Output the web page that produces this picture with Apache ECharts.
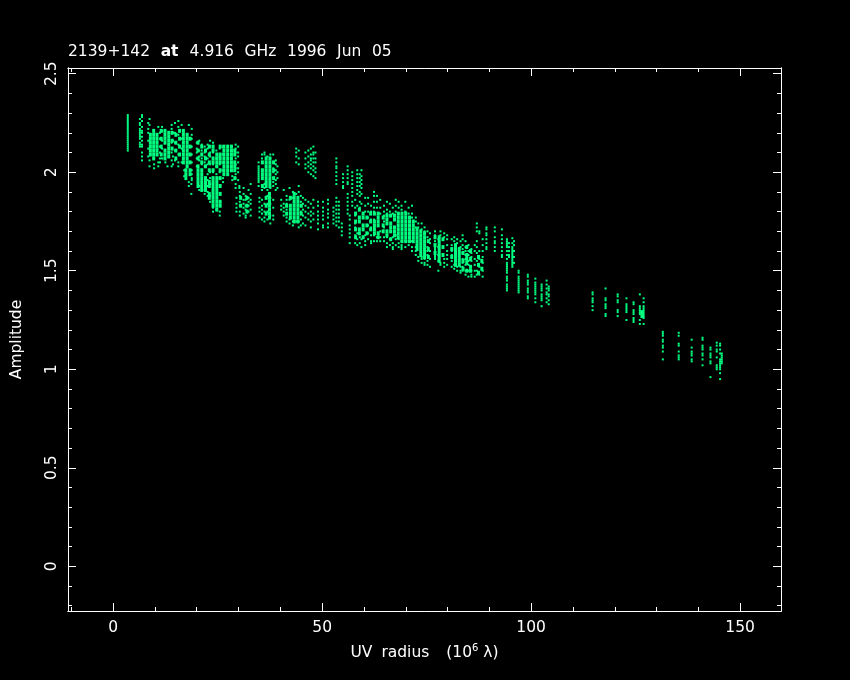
<!DOCTYPE html>
<html><head><meta charset="utf-8">
<style>html,body{margin:0;padding:0;background:#000}#c{width:850px;height:680px}</style>
<script src="https://cdn.jsdelivr.net/npm/echarts@6/dist/echarts.min.js"></script>
</head><body><div id="c"></div>
<script>
const titleWords = ['2139+142', 'at', '4.916', 'GHz', '1996', 'Jun', '05'];
const xNameWords = ['UV', 'radius', '(10', '6', 'λ)'];
const yName = 'Amplitude';
const xMajorTicks = [0, 50, 100, 150];
const xMinorTicks = [-10, 10, 20, 30, 40, 60, 70, 80, 90, 110, 120, 130, 140];
const yMajorTicks = [0, 0.5, 1, 1.5, 2, 2.5];
const yMinorTicks = [-0.2, -0.1, 0.1, 0.2, 0.3, 0.4, 0.6, 0.7, 0.8, 0.9, 1.1, 1.2, 1.3, 1.4, 1.6, 1.7, 1.8, 1.9, 2.1, 2.2, 2.3, 2.4];

// each row: UV radius, then the amplitudes read in that column
const denseColumns = [
[8.9,2.19,2.17,2.15,2.13,2.11,2.09],[9.7,2.21,2.19,2.17,2.15,2.13,2.11,2.09,2.07],[10.5,2.19,2.17,2.15,2.13,2.11,2.09],
[11.5,2.21,2.17,2.13,2.09],[12.4,2.21,2.19,2.17,2.15,2.11,2.09,2.07],[13.3,2.2,2.18,2.16,2.14,2.12,2.1,2.08],[14.1,2.2,2.16,2.12],
[15,2.19,2.15,2.11,2.07],[15.9,2.21,2.17,2.13,2.09],[16.8,2.21,2.19,2.17,2.15,2.13,2.11,2.09,2.07,2.05],[17.7,2.19,2.17,2.15,2.13,2.11,2.09,2.07,2.05,2.03],[18.4,2.17,2.13,2.09,2.05,2.01,1.99],
[17.4,2.01,1.99,1.97],
[20.3,2.15,2.11,2.07,2.03,2.01,1.99,1.97,1.95,1.93],[21.2,2.13,2.09,2.05,2.01,1.99,1.97,1.95,1.93,1.91],[22.1,2.11,2.07,2.03,1.97,1.95,1.93,1.91],[23,2.13,2.09,2.05,2.01,1.95,1.93,1.89,1.87],
[23.9,2.13,2.11,2.07,2.05,2.01,1.97,1.95,1.93,1.91,1.89,1.87,1.85,1.83],[24.8,2.09,2.07,2.05,2.03,1.97,1.95,1.93,1.91,1.89,1.87,1.85,1.83,1.81],[25.6,2.13,2.09,2.07,2.05,2.01,1.97,1.93,1.89,1.85,1.83],
[26.5,2.13,2.11,2.09,2.07,2.05,2.03,2.01,1.99],[27.4,2.13,2.11,2.09,2.07,2.05,2.03,2.01,1.99],[28.3,2.13,2.11,2.09,2.07,2.05,2.03,2.01],[29.1,2.11,2.09,2.05,2.03,2.01,1.97],
[30.5,1.87,1.83],[32,1.87,1.83,1.8],
[35.7,2.05,2.01,1.99,1.97,1.93],[36.6,2.07,2.05,2.03,2.01,1.99,1.97,1.95,1.93],[37.5,2.07,2.05,2.03,2.01,1.99,1.97,1.95,1.93],[38.4,2.05,2.01,1.97],
[36.6,1.87,1.83,1.79],[37.4,1.89,1.87,1.85,1.83,1.81,1.79,1.77],
[41.5,1.83,1.79],[42.4,1.87,1.83,1.81,1.79,1.77],[43.3,1.89,1.87,1.85,1.83,1.81,1.79,1.77,1.75],[44.2,1.87,1.85,1.83,1.81,1.79,1.77,1.75],[45,1.83,1.79],
[58,1.79,1.75,1.71,1.67],[58.9,1.81,1.77,1.75,1.71,1.69],[59.8,1.79,1.77,1.73,1.71,1.67],[60.7,1.77,1.73,1.69],
[61.6,1.79,1.75,1.71],[62.5,1.79,1.75,1.73,1.71,1.69],[63.4,1.79,1.77,1.75,1.73,1.69,1.67],
[64.6,1.77,1.73,1.7],[65.5,1.78,1.76,1.74,1.7,1.68],[66.4,1.78,1.74,1.72,1.7,1.66],[67.3,1.78,1.76,1.72,1.7,1.68],
[68.2,1.79,1.77,1.75,1.73,1.71,1.69,1.67],[69.1,1.79,1.77,1.75,1.73,1.71,1.69,1.67,1.65],[70,1.79,1.77,1.75,1.73,1.71,1.69,1.67,1.65],[70.9,1.77,1.75,1.73,1.71,1.69,1.67,1.65],[71.8,1.75,1.73,1.71,1.69,1.67,1.65],
[72.7,1.71,1.69,1.67,1.65,1.63,1.61],[73.6,1.7,1.68,1.66,1.64,1.62,1.6,1.58],[74.5,1.69,1.67,1.65,1.63,1.61,1.59,1.57],[75.4,1.65,1.61,1.57],
[77,1.67,1.63,1.59],[78,1.67,1.65,1.63,1.61,1.59,1.57,1.55],[78.9,1.66,1.62,1.58],
[81,1.61,1.57],[81.9,1.63,1.61,1.59,1.57,1.55,1.53],[82.8,1.61,1.59,1.57,1.55,1.53],[83.7,1.59,1.55,1.51],
[84.6,1.62,1.58,1.56,1.54,1.5],[85.5,1.6,1.56,1.52,1.5],[87.4,1.57,1.53,1.49],[88.2,1.55,1.51],
[126.5,1.29,1.27]
];
const sparseColumns = [
[3.5,2.29,2.28,2.27,2.26,2.25,2.24,2.23,2.22,2.21,2.2,2.19,2.18,2.17,2.16,2.15,2.14,2.13,2.12,2.11],
[6.4,2.27,2.25,2.24,2.22,2.21,2.2,2.19,2.18,2.17,2.15,2.14,2.13],[6.9,2.29,2.28,2.26,2.23,2.21,2.2,2.18,2.16,2.14,2.13,2.1,2.08,2.06],
[8.4,2.25,2.22,2.2,2.16,2.12,2.08],[8.7,2.27,2.24,2.06,2.03],[10.8,2.23,2.05,2.03],[9.8,2.04,2.02],
[11.2,2.2,2.17,2.13,2.1,2.07,2.05],[11.7,2.23,2.21,2.16,2.12,2.07],[14,2.24,2.22,2.15,2.1,2.06,2.03],[14.3,2.2,2.16,2.08,2.04],[13,2.03],[12.5,2.05],
[14.8,2.25,2.2,2.15,2.11,2.06],[15.6,2.26,2.23,2.19,2.14,2.09,2.05,2.03],[16.4,2.24,2.17,2.12,2.05],[18.8,2.22,2.19,2.17,2.13,2.09,2.05,2.01,1.99,1.97,1.96],[18.1,2.24,1.95,1.93],[17,2.01,1.98],[18.7,1.89,1.94],
[20,2.15,2.12,2.1,2.07,2.03],[20.6,2.16,2.11,2.08,2.06,1.93,1.91],[21.2,2.14,2.11,2.07,2.04,1.92],[21.9,2.13,2.1,2.08,2.05,2.03,1.91,1.89],[22.6,2.14,2.12,2.07,2.04,1.99,1.96,1.93,1.9,1.88],[23.2,2.16,2.13,2.1,2.08,2.04,2,1.97,1.94,1.88,1.85],[23.9,2.15,2.1,2.04,2,1.82,1.8],[24.7,2.11,2.07,2.03,1.99,1.81],[25.5,2.12,2.08,2.04,2.0,1.97,1.8,1.78],
[26.3,2.13,2.09,2.05,2.01,1.97,1.95],[28.5,1.98,1.96],[29.3,2.14,2.12,2.1,2.07,2.04,2.02,1.99,1.97,1.94,1.92],[29.9,2.13,2.1,2.08,2.05,2.02,2.0,1.96],[30.2,1.93,1.92],
[29.5,1.87,1.84,1.82,1.8],[30.3,1.9,1.88,1.85,1.83,1.8,1.78],[31.2,1.92,1.89,1.86,1.84,1.82,1.79],[31.7,1.88,1.86,1.83,1.81,1.78,1.77],[32.4,1.91,1.87,1.85,1.83,1.8],[32.9,1.94,1.89,1.86,1.84,1.81,1.78],
[34.8,2.05,2.03,2.02,2.01,2.0,1.99,1.98,1.97,1.96,1.95,1.93],[35,1.87,1.85,1.82,1.8,1.77],[35.6,2.09,2.07,1.91,1.86,1.83,1.81,1.79,1.76],[36.2,2.1,2.09,1.94,1.92,1.84,1.8,1.77,1.75],[36.9,2.08,1.91,1.88,1.84,1.8,1.76],[37.6,2.09,2.07,1.92,1.87,1.84,1.78,1.74],[38.3,2.09,2.05,2.02,2,1.97,1.95,1.93,1.86,1.82,1.78,1.76],[38.9,2.06,2.04,2.01,1.99,1.96,1.94,1.91],[39.3,2.03,2,1.97,1.92],
[40.2,1.86,1.83,1.81],[40.8,1.91,1.84,1.82,1.8,1.78],[41.5,1.88,1.86,1.84,1.81,1.77,1.75],[42.2,1.92,1.86,1.76,1.74],[43,1.9,1.87,1.75,1.73],[43.8,2.12,2.1,2.08,2.05,1.89,1.75],[44.4,2.11,2.07,2.04,1.93,1.9,1.75,1.72],[44.9,1.88,1.85,1.83,1.8,1.76,1.73],[45.4,1.87,1.84,1.81,1.78,1.74],
[46,2.1,2.07,2.04,2.02,1.86,1.83,1.8,1.77,1.73],[46.7,2.11,2.08,2.05,2.03,2.0,1.85,1.82,1.79,1.76],[47.3,2.12,2.09,2.07,2.06,2.04,2.02,1.99,1.84,1.8,1.78,1.75,1.72],[47.9,2.13,2.1,2.09,2.07,2.05,2.03,2.01,1.98,1.86,1.82,1.79,1.76],[48.4,2.1,2.07,2.05,2.02,2,1.97],
[49,1.85,1.83,1.8,1.78,1.76,1.74,1.71],[50.2,1.85,1.82,1.8,1.78,1.76,1.73,1.72],[51.4,1.86,1.84,1.81,1.79,1.77,1.74,1.72],
[52.7,1.82,1.8,1.78,1.76,1.74],[53.4,2.07,2.05,2.03,2.02,2,1.98,1.96,1.94,1.87,1.85,1.83,1.81,1.79,1.77,1.75,1.73],[54,1.85,1.83,1.81,1.79,1.77,1.75,1.72],[54.7,1.74,1.72,1.7,1.68],
[55,1.99,1.97,1.95,1.93,1.92],[56.1,2.03,2.01,1.99,1.97,1.95,1.94,1.89,1.87,1.85,1.83,1.81,1.79],[56.6,1.78,1.76,1.73,1.71,1.69,1.67,1.64],[57.2,2,1.98,1.96,1.94,1.92,1.9,1.88,1.85,1.83],
[57.9,1.86,1.82,1.78,1.74,1.72,1.68,1.64],[58.4,2.01,1.99,1.97,1.95,1.93,1.91,1.89,1.83,1.69,1.66,1.63],[59,1.99,1.97,1.95,1.93,1.9,1.88,1.85,1.82,1.67,1.64],[59.4,2.01,1.98,1.96,1.94,1.92,1.89,1.84,1.66,1.62],[60.3,1.87,1.83,1.8,1.68,1.65,1.63],
[61,1.87,1.84,1.8,1.77,1.73,1.69,1.66],[61.7,1.83,1.8,1.76,1.72,1.68,1.65,1.64],[62.4,1.9,1.88,1.85,1.82,1.8,1.76,1.72,1.68,1.65],[63.1,1.88,1.85,1.82,1.67,1.65],[63.9,1.86,1.82,1.79,1.7,1.67,1.65],
[64.8,1.83,1.8,1.78,1.75,1.72,1.67,1.65],[65.5,1.85,1.81,1.79,1.67,1.64,1.62],[66.2,1.84,1.8,1.78,1.66,1.63],[66.9,1.82,1.79,1.67,1.64,1.62,1.61],[67.6,1.86,1.83,1.8,1.68,1.66,1.63],
[68.3,1.85,1.82,1.79,1.66,1.64,1.62],[69,1.83,1.81,1.65,1.63,1.62,1.61],[69.9,1.85,1.8,1.65,1.62],[70.7,1.82,1.79,1.65,1.63],[71.5,1.83,1.79,1.77,1.65,1.62,1.6],
[72.4,1.77,1.75,1.72,1.62,1.6,1.58],[73,1.74,1.72,1.57,1.55],[73.8,1.74,1.71,1.57,1.56,1.54],[74.5,1.72,1.7,1.56,1.54,1.53],[75.2,1.7,1.67,1.62,1.6,1.58,1.55,1.53],[75.8,1.69,1.66,1.64,1.6,1.56,1.52],
[77,1.7,1.68,1.65,1.63,1.62,1.61,1.6,1.59,1.58,1.57,1.56],[77.8,1.66,1.62,1.58,1.55,1.5],[78.3,1.7,1.68,1.54,1.53],[79.2,1.69,1.67,1.56,1.54,1.52],[79.9,1.68,1.66,1.63,1.6,1.58,1.56,1.53],
[81,1.66,1.63,1.6,1.58,1.55,1.52],[81.6,1.67,1.65,1.53,1.51],[82.3,1.66,1.64,1.52,1.5],[83.1,1.65,1.62,1.52,1.5,1.49],[83.6,1.68,1.66,1.63,1.61,1.59,1.56,1.54,1.52,1.5],
[84.3,1.65,1.62,1.6,1.58,1.56,1.53,1.5,1.48],[85,1.63,1.6,1.58,1.55,1.53,1.5,1.47],[85.7,1.61,1.59,1.57,1.55,1.5,1.48,1.47],[86.5,1.63,1.6,1.56,1.53,1.5,1.47],
[87,1.74,1.72,1.7,1.65,1.62,1.59,1.55,1.5,1.48],[87.6,1.7,1.69,1.6,1.56,1.52,1.48],[88.4,1.66,1.63,1.6,1.57,1.54,1.5,1.47],
[89.3,1.72,1.71,1.69,1.68,1.66,1.64,1.62,1.61],[91.3,1.72,1.7,1.67,1.65,1.64,1.62,1.6],[93,1.71,1.68,1.66,1.64,1.62,1.6,1.58,1.57],
[94.2,1.66,1.65,1.64,1.63,1.62,1.6,1.58,1.56,1.54,1.53,1.52,1.51,1.5,1.49,1.47,1.46,1.45,1.43,1.42,1.41,1.4],[94.7,1.64,1.62,1.6,1.58,1.57],[95.5,1.665,1.64,1.62,1.61,1.6,1.59,1.58,1.57,1.56,1.55,1.54,1.53,1.52],[95.9,1.65,1.63,1.6,1.57,1.54],
[97,1.5,1.49,1.47,1.46,1.45,1.44,1.43,1.42,1.41,1.4,1.39],[99.2,1.48,1.47,1.45,1.44,1.43,1.41,1.4,1.39,1.37,1.36],[101,1.46,1.44,1.43,1.42,1.41,1.4,1.39,1.38,1.36,1.34],[102.5,1.43,1.42,1.41,1.4,1.38,1.37,1.36,1.35,1.32],[103.7,1.45,1.43,1.41,1.39,1.38,1.36,1.34],[104.2,1.42,1.41,1.4,1.38,1.37,1.35,1.33],
[114.7,1.39,1.38,1.36,1.35,1.34,1.32,1.3],[117.8,1.41,1.36,1.35,1.33,1.32,1.31,1.28,1.27],[120.7,1.38,1.37,1.35,1.34,1.3,1.29,1.27],[122.8,1.36,1.33,1.32,1.31,1.3,1.29,1.25],[124.5,1.34,1.33,1.3,1.29,1.28,1.26,1.25,1.24],[126,1.38,1.32,1.31,1.3,1.29,1.28,1.25,1.23],[126.9,1.36,1.34,1.32,1.31,1.3,1.29,1.28,1.27,1.26,1.23],
[131.5,1.19,1.18,1.17,1.15,1.14,1.12,1.11,1.09,1.05],[135.3,1.185,1.17,1.13,1.12,1.09,1.07,1.06,1.05],[138.4,1.15,1.11,1.09,1.08,1.07,1.05,1.04],[141,1.16,1.15,1.12,1.11,1.1,1.08,1.07,1.05,1.02],[142.9,1.11,1.1,1.08,1.07,1.06,1.04,1.03,0.96],[144.4,1.135,1.12,1.1,1.09,1.06,1.02,1.01,1.0],[145.2,1.13,1.12,1.1,1.08,1.05,1.04,1.03,1.02,1.01,1.0,0.98,0.95],[145.6,1.08,1.07,1.06,1.05,1.04,1.03]
];
const toPoints = cols => cols.flatMap(([x, ...ys]) => ys.map(y => [x, y]));
const tick = (customValues, length) => ({show: true, inside: true, length, customValues, lineStyle: {color: '#fff', width: 1}});
const line = {show: true, onZero: false, lineStyle: {color: '#fff', width: 1}};
const font = {fontFamily: 'DejaVu Sans', fontWeight: 'normal', color: '#fff', fontSize: 15.5};
const xAx = (position, vals, len, labels) => ({type: 'value', position, min: -10.8, max: 159.77, splitLine: {show: false}, axisLine: line, axisTick: tick(vals, len),
  axisLabel: labels ? {show: true, customValues: xMajorTicks, margin: 9, ...font} : {show: false}});
const yAx = (position, vals, len, labels) => ({type: 'value', position, min: -0.227, max: 2.529, splitLine: {show: false}, axisLine: line, axisTick: tick(vals, len),
  axisLabel: labels ? {show: true, customValues: yMajorTicks, rotate: 90, margin: 8, ...font} : {show: false}});

const chart = echarts.init(document.getElementById('c'), null, {renderer: 'canvas'});
const xMain = xAx('bottom', xMajorTicks, 8, true);
xMain.name = `{a|${xNameWords[0]} }{b|${xNameWords[1]} }{c|${xNameWords[2]}}{s|${xNameWords[3]}}{c| ${xNameWords[4]}}`;
xMain.nameLocation = 'middle'; xMain.nameGap = 32;
xMain.nameTextStyle = {rich: {a: {...font, padding: [0, 4, 0, 0]}, b: {...font, padding: [0, 12, 0, 0]}, c: {...font}, s: {...font, fontSize: 10, padding: [0, 0, 9, 0]}}};
const yMain = yAx('left', yMajorTicks, 8, true);
yMain.name = yName; yMain.nameLocation = 'middle'; yMain.nameGap = 43; yMain.nameTextStyle = {...font};
const gapped = {...font, padding: [0, 5.7, 0, 0]};
chart.setOption({
  backgroundColor: '#000',
  animation: false,
  title: {left: 68, top: 44, padding: 0,
    text: titleWords.map((w, i) => `{${i === 1 ? 'b' : 'a'}|${w}${i < titleWords.length - 1 ? ' ' : ''}}`).join(''),
    textStyle: {rich: {a: gapped, b: {...gapped, fontWeight: 'bold'}}}},
  grid: {left: 68, top: 68, width: 713, height: 543},
  xAxis: [xMain, xAx('bottom', xMinorTicks, 4), xAx('top', xMajorTicks, 8), xAx('top', xMinorTicks, 4)],
  yAxis: [yMain, yAx('left', yMinorTicks, 4), yAx('right', yMajorTicks, 8), yAx('right', yMinorTicks, 4)],
  series: [
    {type: 'scatter', symbol: 'rect', symbolSize: [3, 4], silent: true, itemStyle: {color: '#00ff80', opacity: 1}, data: toPoints(denseColumns)},
    {type: 'scatter', symbol: 'rect', symbolSize: [2, 2], silent: true, itemStyle: {color: '#00ff80', opacity: 1}, data: toPoints(sparseColumns)}
  ]
});
</script></body></html>
